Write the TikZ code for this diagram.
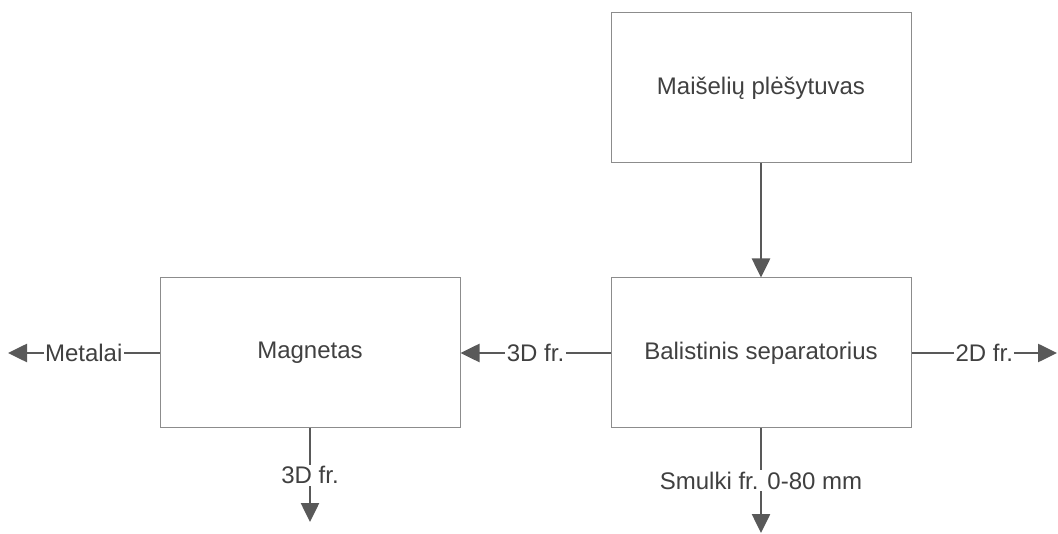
\documentclass[tikz,border=0pt]{standalone}
\usepackage{fontspec}
\setmainfont{Liberation Sans}
\usepackage{tikz}
\usetikzlibrary{
    arrows.meta,
    positioning
}

\begin{document}
\begin{tikzpicture} [x=1pt, y=-1pt,
    box/.style={draw=black!45, line width=1pt, minimum width=300pt, minimum height=150pt,
        text=black!75, font=\fontsize{24}{28}\selectfont},
    flow/.style={-{Triangle[length=19pt,width=18pt]}, draw=black!65, line width=2.6pt},
    lbl/.style={fill=white, inner sep=1.5pt, text=black!75, font=\fontsize{24}{28}\selectfont}]
    \useasboundingbox (0,0) rectangle (1058,534);

    \node[box] (plesyt) at (761,88)  {Maišelių plėšytuvas};
    \node[box] (balist) at (761,353) {Balistinis separatorius};
    \node[box] (magnet) at (310,353) {Magnetas};

    \coordinate (metal) at (8,353);
    \coordinate (dvid)  at (1057,353);
    \coordinate (trid)  at (310,522);
    \coordinate (smulk) at (761,533);

    \draw[flow] (plesyt) -- (balist);
    \draw[flow] (balist) -- node[lbl] {3D fr.} (magnet);
    \draw[flow] (balist) -- node[lbl] {2D fr.} (dvid);
    \draw[flow] (magnet) -- node[lbl] {Metalai} (metal);
    \draw[flow] (magnet) -- node[lbl] {3D fr.} (trid);
    \draw[flow] (balist) -- node[lbl] {Smulki fr. 0-80 mm} (smulk);
\end{tikzpicture}
\end{document}
